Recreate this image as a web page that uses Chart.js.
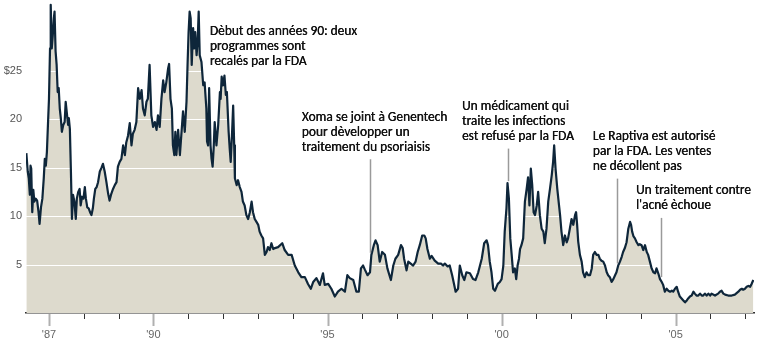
<!DOCTYPE html>
<html>
<head>
<meta charset="utf-8">
<title>Xoma</title>
<script src="https://cdn.jsdelivr.net/npm/chart.js@4.4.1/dist/chart.umd.min.js"></script>
<style>
  html, body { margin: 0; padding: 0; background: #fff; }
  #wrap { position: relative; width: 761px; height: 342px; }
</style>
</head>
<body>
<div id="wrap"><canvas id="stockChart"></canvas></div>
<script>
// cours de l'action (dates en années décimales, prix en $)
const dates = [
  1986.35, 1986.39, 1986.42, 1986.45, 1986.47, 1986.49, 1986.52, 1986.55, 1986.58, 1986.62,
  1986.66, 1986.70, 1986.73, 1986.77, 1986.81, 1986.85, 1986.88, 1986.91, 1986.94, 1986.97,
  1987.00, 1987.03, 1987.05, 1987.08, 1987.11, 1987.14, 1987.16, 1987.19, 1987.22, 1987.25,
  1987.28, 1987.31, 1987.34, 1987.37, 1987.41, 1987.45, 1987.48, 1987.52, 1987.55, 1987.57,
  1987.60, 1987.63, 1987.66, 1987.69, 1987.73, 1987.77, 1987.80, 1987.84, 1987.88, 1987.91,
  1987.95, 1987.99, 1988.03, 1988.06, 1988.10, 1988.14, 1988.18, 1988.22, 1988.26, 1988.29,
  1988.33, 1988.37, 1988.41, 1988.46, 1988.51, 1988.55, 1988.60, 1988.65, 1988.70, 1988.74,
  1988.79, 1988.84, 1988.89, 1988.94, 1988.98, 1989.03, 1989.08, 1989.13, 1989.18, 1989.22,
  1989.27, 1989.32, 1989.37, 1989.41, 1989.46, 1989.51, 1989.56, 1989.61, 1989.66, 1989.70,
  1989.75, 1989.80, 1989.84, 1989.89, 1989.94, 1989.99, 1990.04, 1990.09, 1990.13, 1990.18,
  1990.23, 1990.28, 1990.32, 1990.37, 1990.42, 1990.45, 1990.49, 1990.53, 1990.56, 1990.60,
  1990.63, 1990.66, 1990.71, 1990.76, 1990.80, 1990.85, 1990.90, 1990.95, 1990.98, 1991.01,
  1991.04, 1991.07, 1991.10, 1991.14, 1991.17, 1991.20, 1991.24, 1991.27, 1991.30, 1991.33,
  1991.38, 1991.43, 1991.47, 1991.52, 1991.54, 1991.57, 1991.60, 1991.64, 1991.67, 1991.70,
  1991.73, 1991.76, 1991.81, 1991.86, 1991.91, 1991.93, 1991.96, 1992.00, 1992.04, 1992.08,
  1992.11, 1992.16, 1992.19, 1992.22, 1992.26, 1992.29, 1992.32, 1992.34, 1992.39, 1992.43,
  1992.48, 1992.53, 1992.57, 1992.62, 1992.67, 1992.72, 1992.77, 1992.82, 1992.86, 1992.91,
  1992.96, 1993.01, 1993.05, 1993.10, 1993.15, 1993.20, 1993.25, 1993.29, 1993.34, 1993.39,
  1993.44, 1993.49, 1993.58, 1993.70, 1993.77, 1993.87, 1993.97, 1994.06, 1994.16, 1994.25,
  1994.35, 1994.44, 1994.52, 1994.59, 1994.68, 1994.78, 1994.87, 1994.92, 1995.02, 1995.11,
  1995.21, 1995.30, 1995.40, 1995.50, 1995.57, 1995.64, 1995.74, 1995.83, 1995.90, 1995.96,
  1996.02, 1996.07, 1996.15, 1996.22, 1996.26, 1996.33, 1996.38, 1996.44, 1996.50, 1996.57,
  1996.65, 1996.72, 1996.82, 1996.89, 1996.95, 1997.03, 1997.11, 1997.16, 1997.20, 1997.27,
  1997.32, 1997.39, 1997.46, 1997.53, 1997.59, 1997.65, 1997.72, 1997.78, 1997.82, 1997.87,
  1997.94, 1997.99, 1998.08, 1998.18, 1998.26, 1998.32, 1998.37, 1998.45, 1998.51, 1998.58,
  1998.64, 1998.68, 1998.75, 1998.80, 1998.87, 1998.93, 1998.99, 1999.09, 1999.18, 1999.25,
  1999.33, 1999.43, 1999.50, 1999.57, 1999.61, 1999.66, 1999.71, 1999.76, 1999.81, 1999.89,
  1999.95, 2000.00, 2000.05, 2000.09, 2000.14, 2000.17, 2000.21, 2000.25, 2000.29, 2000.33,
  2000.38, 2000.42, 2000.46, 2000.50, 2000.53, 2000.57, 2000.62, 2000.67, 2000.72, 2000.76,
  2000.80, 2000.84, 2000.88, 2000.92, 2000.96, 2001.01, 2001.05, 2001.10, 2001.15, 2001.20,
  2001.24, 2001.29, 2001.34, 2001.39, 2001.44, 2001.48, 2001.51, 2001.55, 2001.60, 2001.65,
  2001.68, 2001.72, 2001.77, 2001.82, 2001.87, 2001.91, 2001.96, 2002.01, 2002.06, 2002.11,
  2002.14, 2002.17, 2002.20, 2002.25, 2002.30, 2002.34, 2002.39, 2002.44, 2002.49, 2002.54,
  2002.59, 2002.63, 2002.68, 2002.73, 2002.78, 2002.82, 2002.87, 2002.92, 2002.97, 2003.02,
  2003.06, 2003.11, 2003.16, 2003.21, 2003.26, 2003.30, 2003.35, 2003.40, 2003.45, 2003.49,
  2003.54, 2003.59, 2003.64, 2003.69, 2003.72, 2003.75, 2003.79, 2003.83, 2003.88, 2003.93,
  2003.97, 2004.02, 2004.07, 2004.12, 2004.17, 2004.21, 2004.26, 2004.31, 2004.36, 2004.41,
  2004.45, 2004.50, 2004.55, 2004.60, 2004.64, 2004.69, 2004.74, 2004.79, 2004.84, 2004.89,
  2004.93, 2004.98, 2005.03, 2005.07, 2005.12, 2005.17, 2005.22, 2005.27, 2005.32, 2005.36,
  2005.41, 2005.46, 2005.51, 2005.55, 2005.60, 2005.65, 2005.70, 2005.75, 2005.79, 2005.84,
  2005.89, 2005.94, 2005.99, 2006.03, 2006.13, 2006.22, 2006.27, 2006.32, 2006.37, 2006.42,
  2006.51, 2006.61, 2006.70, 2006.80, 2006.85, 2006.90, 2006.94, 2006.99, 2007.04, 2007.09,
  2007.14, 2007.18, 2007.23
];

const prices = [
  16.5, 14.6, 13.9, 12.2, 15.2, 14.9, 10.4, 12.7, 11.5, 11.8,
  11.6, 10.4, 9.2, 10.9, 11.8, 13.9, 15.9, 15.2, 16.6, 19.4,
  22.1, 27.3, 31.8, 27.3, 28.7, 30.4, 31.1, 27.0, 25.6, 22.8,
  23.2, 21.1, 20.1, 18.7, 19.4, 19.7, 21.8, 20.4, 19.4, 20.1,
  19.0, 14.6, 9.7, 12.2, 11.5, 9.7, 11.8, 12.5, 12.8, 11.1,
  12.0, 11.8, 13.0, 11.8, 10.9, 10.8, 10.4, 10.1, 10.8, 11.8,
  12.8, 13.0, 13.5, 14.6, 15.0, 15.4, 14.6, 13.5, 12.3, 11.6,
  12.3, 12.8, 13.2, 13.5, 15.1, 15.6, 15.9, 17.3, 16.3, 17.6,
  18.3, 19.6, 17.3, 18.5, 18.9, 19.7, 23.2, 22.1, 23.0, 21.1,
  20.4, 21.8, 22.1, 25.6, 20.4, 19.2, 19.7, 18.9, 20.4, 19.2,
  22.1, 24.0, 22.8, 23.8, 25.2, 25.7, 22.1, 21.1, 17.3, 16.3,
  18.7, 16.3, 18.9, 16.3, 18.3, 20.8, 18.7, 21.8, 25.6, 29.0,
  31.1, 30.4, 25.6, 29.4, 27.3, 29.0, 26.6, 28.0, 31.1, 26.6,
  25.9, 23.5, 23.8, 21.1, 17.7, 17.3, 23.2, 17.3, 15.9, 15.1,
  17.0, 19.7, 17.3, 19.4, 22.8, 22.1, 24.4, 23.5, 24.5, 22.5,
  22.8, 18.7, 17.0, 15.6, 18.7, 21.4, 17.3, 13.9, 13.2, 13.7,
  13.0, 12.5, 11.5, 11.1, 10.1, 9.7, 10.4, 11.5, 10.4, 9.7,
  9.4, 9.1, 8.4, 8.0, 7.7, 6.0, 6.3, 6.8, 6.5, 7.2,
  6.6, 6.7, 6.8, 7.2, 6.5, 6.0, 6.0, 4.9, 4.2, 3.7,
  3.7, 3.0, 2.5, 3.2, 3.6, 2.9, 4.1, 2.9, 3.0, 2.5,
  1.7, 2.2, 2.5, 2.2, 3.9, 3.6, 3.4, 2.2, 2.2, 4.6,
  4.9, 4.5, 3.9, 4.2, 6.0, 7.0, 7.5, 7.0, 5.3, 6.3,
  6.0, 4.6, 3.4, 4.9, 5.6, 6.0, 7.0, 6.7, 5.6, 4.4,
  5.3, 5.1, 4.9, 5.3, 6.3, 7.0, 8.0, 8.0, 7.7, 6.6,
  5.6, 5.9, 5.4, 5.1, 5.1, 4.9, 5.1, 4.8, 4.9, 3.9,
  2.9, 2.2, 2.5, 4.9, 3.9, 3.4, 4.2, 4.1, 3.5, 3.4,
  4.2, 5.6, 7.2, 7.5, 7.0, 5.3, 4.2, 2.5, 2.3, 3.0,
  3.2, 3.5, 4.9, 8.4, 10.8, 13.4, 11.8, 7.7, 6.0, 4.2,
  4.6, 3.5, 4.9, 5.6, 6.6, 7.0, 7.7, 11.5, 12.8, 14.0,
  11.1, 14.9, 13.2, 10.4, 10.1, 11.1, 12.5, 10.1, 8.7, 8.4,
  7.2, 8.7, 11.5, 12.8, 14.2, 15.6, 17.3, 14.9, 12.8, 11.1,
  10.1, 8.4, 7.0, 8.0, 7.3, 7.7, 8.7, 9.7, 9.1, 10.1,
  10.4, 9.1, 7.4, 6.0, 5.3, 4.2, 3.7, 4.2, 3.9, 3.9,
  4.6, 6.0, 6.3, 6.0, 6.0, 5.6, 5.4, 5.3, 4.9, 4.2,
  3.9, 3.7, 3.2, 3.5, 3.9, 4.2, 4.9, 5.3, 5.8, 6.3,
  6.7, 7.3, 8.7, 9.4, 9.1, 8.4, 7.9, 7.7, 7.3, 7.0,
  7.1, 7.0, 6.5, 7.0, 6.3, 6.0, 5.3, 4.6, 4.2, 4.1,
  4.6, 4.1, 3.5, 3.2, 2.9, 2.2, 2.5, 2.3, 2.2, 2.3,
  2.2, 2.5, 2.7, 2.2, 1.7, 1.5, 1.3, 1.1, 1.3, 1.5,
  1.7, 1.8, 2.2, 2.0, 1.8, 1.8, 2.0, 1.8, 1.8, 2.0,
  1.8, 2.0, 1.8, 2.0, 1.8, 2.0, 2.2, 2.3, 2.0, 1.9,
  1.8, 1.8, 1.9, 2.2, 2.4, 2.5, 2.4, 2.5, 2.7, 2.8,
  2.7, 3.0, 3.4
];

const yearTicks = [1987, 1988, 1989, 1990, 1991, 1992, 1993, 1994, 1995, 1996, 1997,
  1998, 1999, 2000, 2001, 2002, 2003, 2004, 2005, 2006, 2007];
const yearLabels = { 1987: "'87", 1990: "'90", 1995: "'95", 2000: "'00", 2005: "'05" };
const priceTicks = [5, 10, 15, 20, 25];

// légendes : texte, point d'ancrage (date, prix) et date du trait de rappel
const notes = [
  { lines: ['Dèbut des années 90: deux', 'programmes sont', 'recalés par la FDA'],
    at: [1991.62, 29.0], leader: null },
  { lines: ['Xoma se joint à Genentech', 'pour dèvelopper un', 'traitement du psoriaisis'],
    at: [1994.26, 20.2], leader: 1996.22 },
  { lines: ['Un médicament qui', 'traite les infections', 'est refusé par la FDA'],
    at: [1998.86, 21.3], leader: 2000.17 },
  { lines: ['Le Raptiva est autorisé', 'par la FDA. Les ventes', 'ne décollent pas'],
    at: [2002.62, 18.2], leader: 2003.32 },
  { lines: ['Un traitement contre', "l'acné èchoue"],
    at: [2003.86, 12.6], leader: 2004.58 }
];

const points = dates.map((d, i) => ({ x: d, y: prices[i] }));

function priceNear(date) {
    let best = 0;
    dates.forEach((d, i) => {
        if (Math.abs(d - date) <= 0.04 && prices[i] > best) best = prices[i];
    });
    return best;
}

// lignes blanches du quadrillage par-dessus le fond beige, sous la courbe
const gridOverFill = {
    id: 'gridOverFill',
    afterDatasetDraw(chart, args) {
        if (args.index !== 0) return;
        const { ctx, chartArea, scales: { y } } = chart;
        ctx.save();
        ctx.strokeStyle = '#ffffff';
        ctx.lineWidth = 1;
        priceTicks.forEach(v => {
            const py = Math.round(y.getPixelForValue(v)) + 0.5;
            ctx.beginPath();
            ctx.moveTo(chartArea.left, py);
            ctx.lineTo(chartArea.right, py);
            ctx.stroke();
        });
        ctx.restore();
    }
};

// graduations des années sous l'axe
const yearMarks = {
    id: 'yearMarks',
    afterDraw(chart) {
        const { ctx, chartArea, scales: { x } } = chart;
        const base = chartArea.bottom + 1;
        ctx.save();
        yearTicks.forEach(yr => {
            const px = Math.round(x.getPixelForValue(yr)) + 0.5;
            if (yr in yearLabels) {
                ctx.strokeStyle = '#b0b0b0';
                ctx.lineWidth = 2;
                ctx.beginPath();
                ctx.moveTo(px, base);
                ctx.lineTo(px, base + 12);
                ctx.stroke();
            } else {
                ctx.strokeStyle = '#333333';
                ctx.lineWidth = 1;
                ctx.beginPath();
                ctx.moveTo(px, base);
                ctx.lineTo(px, base + 5);
                ctx.stroke();
            }
        });
        ctx.restore();
    }
};

// textes d'annotation et traits de rappel
const noteLabels = {
    id: 'noteLabels',
    afterDraw(chart) {
        const { ctx, scales: { x, y } } = chart;
        ctx.save();
        ctx.font = '13.4px Carlito, Lato, sans-serif';
        ctx.fillStyle = '#111111';
        ctx.textAlign = 'left';
        ctx.textBaseline = 'middle';
        notes.forEach(n => {
            const tx = x.getPixelForValue(n.at[0]);
            const ty = y.getPixelForValue(n.at[1]);
            n.lines.forEach((line, i) => {
                // léger double tracé pour un texte un peu plus appuyé
                ctx.fillText(line, tx, ty + i * 15);
                ctx.fillText(line, tx + 0.3, ty + i * 15);
            });
            if (n.leader !== null) {
                const lx = Math.round(x.getPixelForValue(n.leader)) + 0.5;
                const top = ty + (n.lines.length - 1) * 15 + 12;
                const bottom = y.getPixelForValue(priceNear(n.leader)) - 2;
                ctx.strokeStyle = '#9a9a9a';
                ctx.lineWidth = 1.5;
                ctx.beginPath();
                ctx.moveTo(lx, top);
                ctx.lineTo(lx, bottom);
                ctx.stroke();
            }
        });
        ctx.restore();
    }
};

const ctx = document.getElementById('stockChart').getContext('2d');
new Chart(ctx, {
    type: 'line',
    data: {
        datasets: [
            {
                data: points,
                fill: 'origin',
                backgroundColor: '#dddacd',
                borderWidth: 0,
                pointRadius: 0,
                order: 1
            },
            {
                data: points,
                fill: false,
                borderColor: '#0e263a',
                borderWidth: 2.2,
                borderJoinStyle: 'round',
                pointRadius: 0,
                tension: 0,
                order: 0
            }
        ]
    },
    options: {
        responsive: true,
        maintainAspectRatio: false,
        animation: false,
        layout: { padding: { top: 0, right: 7, bottom: 0, left: 0 } },
        plugins: { legend: { display: false }, tooltip: { enabled: false } },
        scales: {
            x: {
                type: 'linear',
                min: 1986.34,
                max: 2007.25,
                afterBuildTicks: axis => { axis.ticks = yearTicks.map(v => ({ value: v })); },
                afterFit: scale => {
                    scale.height = 29;
                    scale.paddingLeft = 0;
                    scale.paddingRight = 0;
                },
                grid: { drawOnChartArea: false, drawTicks: false },
                border: { display: true, color: '#2b2b2b', width: 1.5 },
                ticks: {
                    autoSkip: false,
                    maxRotation: 0,
                    padding: 15,
                    color: '#666',
                    font: { family: 'Liberation Sans', size: 11 },
                    callback: v => yearLabels[v] || ''
                }
            },
            y: {
                min: 0,
                max: 32.3,
                afterBuildTicks: axis => { axis.ticks = priceTicks.map(v => ({ value: v })); },
                afterFit: scale => {
                    scale.width = 26;
                    scale.paddingTop = 0;
                    scale.paddingBottom = 0;
                },
                grid: { display: false, drawTicks: false },
                border: { display: false },
                ticks: {
                    padding: 4,
                    color: '#555',
                    font: { family: 'Liberation Sans', size: 11 },
                    callback: v => (v === 25 ? '$25' : String(v))
                }
            }
        }
    },
    plugins: [gridOverFill, yearMarks, noteLabels]
});
</script>
</body>
</html>
